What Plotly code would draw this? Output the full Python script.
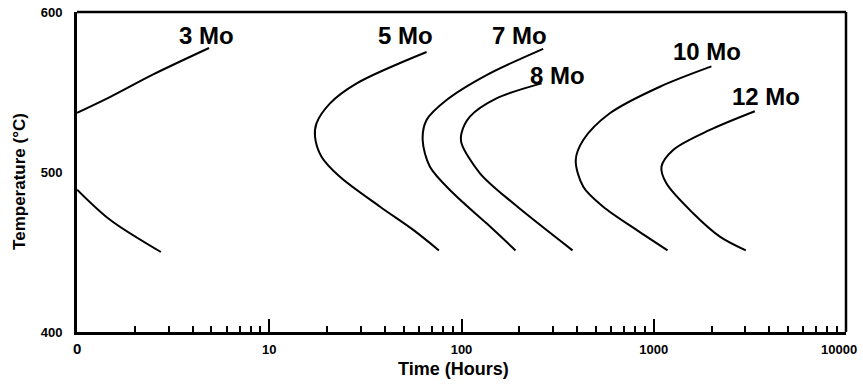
import math
import plotly.graph_objects as go

# ---- data (time in hours, temperature in °C) ----
mo3_upper_t = [1.0, 1.49, 2.49, 4.86]
mo3_upper_T = [537, 547, 561, 577.5]
mo3_lower_t = [1.0, 1.49, 2.73]
mo3_lower_T = [489, 470, 450]

mo5_t = [65.8, 28.5, 20.7, 17.6, 17.3, 18.7, 23.3, 37.7, 56.1, 76.3]
mo5_T = [575, 555.4, 542.9, 530.4, 522, 509.6, 497, 478.3, 463.8, 451]

mo7_t = [266, 135, 83.6, 65.8, 62.8, 68.5, 90.6, 135, 191]
mo7_T = [577, 560.6, 545, 532.5, 520, 503.3, 486.7, 467.9, 451]

mo8_t = [261, 152, 110.6, 100, 100, 124.7, 186, 378]
mo8_T = [555.4, 546, 534.6, 524.2, 518, 499.2, 480.4, 451]

mo10_t = [1996, 1076, 591, 430, 393, 430, 546, 814, 1180]
mo10_T = [566, 553.3, 536.7, 520, 507.5, 490.8, 478.3, 463.8, 451]

mo12_t = [3357, 1959, 1262, 1097, 1164, 1603, 2208, 3013]
mo12_T = [538, 526.3, 513.8, 503.3, 492.9, 474.2, 459.6, 451]

labels = ["3 Mo", "5 Mo", "7 Mo", "8 Mo", "10 Mo", "12 Mo"]
label_t = [4.72, 51.0, 201.0, 315.0, 1900.0, 3850.0]
label_T = [585.6, 585.6, 585.6, 560.5, 575.2, 547.0]

x_tickvals = [1, 10, 100, 1000, 10000]
x_ticktext = ['<span style="font-size:15px">0</span>', "10", "100", "1000", ""]
last_tick_label = "10000"
x_minor = [m * d for d in [1, 10, 100, 1000] for m in range(2, 10)]
y_tickvals = [400, 500, 600]

FONT = "Liberation Sans, Arial"

# ---- figure ----
fig = go.Figure()
series = [
    (mo3_upper_t, mo3_upper_T), (mo3_lower_t, mo3_lower_T),
    (mo5_t, mo5_T), (mo7_t, mo7_T), (mo8_t, mo8_T),
    (mo10_t, mo10_T), (mo12_t, mo12_T),
]
for t, T in series:
    fig.add_trace(go.Scatter(
        x=t, y=T, mode="lines",
        line=dict(color="black", width=2, shape="spline", smoothing=0.9),
        showlegend=False, hoverinfo="skip"))

for txt, t, T in zip(labels, label_t, label_T):
    fig.add_annotation(x=math.log10(t), y=T, text=f"<b>{txt}</b>", showarrow=False,
                       font=dict(family=FONT, size=24, color="black"),
                       xanchor="center", yanchor="middle")

# last x tick label, nudged left so it stays inside the picture
fig.add_annotation(x=math.log10(x_tickvals[-1]), xref="x", yref="paper", y=0,
                   text=f"<b>{last_tick_label}</b>", showarrow=False,
                   xanchor="right", yanchor="middle", xshift=13, yshift=-17,
                   font=dict(family=FONT, size=13, color="black"))

fig.add_annotation(xref="paper", yref="paper", x=0.489, y=-0.1156, xanchor="center", yanchor="middle",
                   text="<b>Time (Hours)</b>", showarrow=False,
                   font=dict(family=FONT, size=18, color="black"))
fig.add_annotation(xref="paper", yref="paper", x=-0.0741, y=0.469, xanchor="center", yanchor="middle",
                   text="<b>Temperature (°C)</b>", showarrow=False, textangle=-90,
                   font=dict(family=FONT, size=17, color="black"))

# thinner top/right frame
fig.add_shape(type="line", xref="paper", yref="paper", x0=0, x1=1, y0=1, y1=1,
              line=dict(color="black", width=2.5))
fig.add_shape(type="line", xref="paper", yref="paper", x0=1, x1=1, y0=0, y1=1,
              line=dict(color="black", width=2.5))

fig.update_xaxes(
    type="log", range=[-0.0003, 4.0003], showgrid=False, zeroline=False,
    showline=True, linecolor="black", linewidth=3,
    tickvals=x_tickvals, ticktext=x_ticktext,
    ticks="inside", ticklen=13, tickwidth=2, tickcolor="black",
    minor=dict(tickvals=x_minor, ticks="inside", ticklen=6, tickwidth=2, tickcolor="black", showgrid=False),
    tickfont=dict(family=FONT, size=13, color="black", weight="bold"),
    ticklabelstandoff=3, ticklabeloverflow="allow",
)
fig.update_yaxes(
    range=[400, 600], showgrid=False, zeroline=False,
    showline=True, linecolor="black", linewidth=3,
    tickvals=y_tickvals, ticks="",
    tickfont=dict(family=FONT, size=13, color="black", weight="bold"),
    ticklabelstandoff=9,
)
fig.update_layout(
    width=863, height=389,
    margin=dict(l=77, r=17, t=12, b=57, autoexpand=False),
    paper_bgcolor="white", plot_bgcolor="white",
)
fig.write_html("out.html", config={"displayModeBar": False},
               post_script="document.body.style.margin='0';")
